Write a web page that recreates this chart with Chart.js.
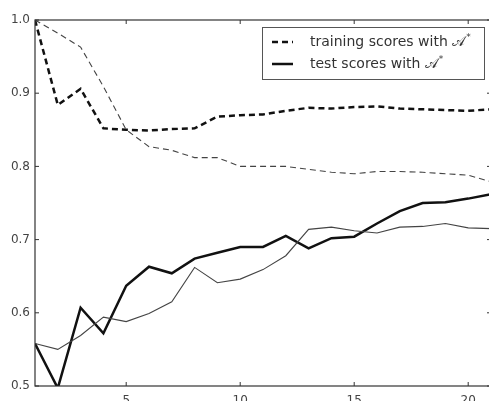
<!DOCTYPE html>
<html>
<head>
<meta charset="utf-8">
<script src="https://cdn.jsdelivr.net/npm/chart.js@4/dist/chart.umd.min.js"></script>
<style>
  html, body { margin: 0; padding: 0; background: #fff; overflow: hidden; }
  #wrap { position: relative; width: 493px; height: 412px; }
</style>
</head>
<body>
<div id="wrap"><canvas id="myChart"></canvas></div>
<script>
// data
var steps = [1, 2, 3, 4, 5, 6, 7, 8, 9, 10, 11, 12, 13, 14, 15, 16, 17, 18, 19, 20, 21];
var trainScoresA = [1.0, 0.884, 0.906, 0.852, 0.850, 0.849, 0.851, 0.852, 0.868, 0.870, 0.871, 0.876, 0.880, 0.879, 0.881, 0.882, 0.879, 0.878, 0.877, 0.876, 0.878];
var trainScoresB = [1.0, 0.982, 0.963, 0.909, 0.850, 0.827, 0.822, 0.812, 0.812, 0.800, 0.800, 0.800, 0.796, 0.792, 0.790, 0.793, 0.793, 0.792, 0.790, 0.788, 0.779];
var testScoresA = [0.558, 0.497, 0.607, 0.572, 0.637, 0.663, 0.654, 0.674, 0.682, 0.690, 0.690, 0.705, 0.688, 0.702, 0.704, 0.722, 0.739, 0.750, 0.751, 0.756, 0.762];
var testScoresB = [0.558, 0.550, 0.569, 0.594, 0.588, 0.599, 0.615, 0.662, 0.641, 0.646, 0.659, 0.678, 0.714, 0.717, 0.712, 0.709, 0.717, 0.718, 0.722, 0.716, 0.715];
var xTicks = [5, 10, 15, 20];
var yTicks = [0.5, 0.6, 0.7, 0.8, 0.9, 1.0];
var legendLabels = ['training scores with \u{1D49C}', 'test scores with \u{1D49C}'];

function pts(vals) {
    return vals.map(function (v, i) { return { x: steps[i], y: v }; });
}

var fontFam = '"DejaVu Sans", sans-serif';

// frame, inward ticks and the boxed legend, matplotlib style
var framePlugin = {
    id: 'frame',
    afterDraw: function (chart) {
        var ctx = chart.ctx;
        var a = chart.chartArea;
        var xs = chart.scales.x, ys = chart.scales.y;
        ctx.save();
        ctx.strokeStyle = '#333';
        ctx.lineWidth = 1.2;
        ctx.strokeRect(a.left, a.top, a.right - a.left, a.bottom - a.top);
        ctx.lineWidth = 1;
        ctx.beginPath();
        xTicks.forEach(function (t) {
            var px = xs.getPixelForValue(t);
            ctx.moveTo(px, a.bottom); ctx.lineTo(px, a.bottom - 4);
            ctx.moveTo(px, a.top); ctx.lineTo(px, a.top + 4);
        });
        yTicks.forEach(function (t) {
            var py = ys.getPixelForValue(t);
            ctx.moveTo(a.left, py); ctx.lineTo(a.left + 4, py);
            ctx.moveTo(a.right, py); ctx.lineTo(a.right - 4, py);
        });
        ctx.stroke();

        // legend
        var lx = 262, ly = 27, lw = 222, lh = 52;
        ctx.fillStyle = '#fff';
        ctx.fillRect(lx, ly, lw, lh);
        ctx.strokeStyle = '#555';
        ctx.lineWidth = 1;
        ctx.strokeRect(lx + 0.5, ly + 0.5, lw, lh);
        var rows = [42, 64];
        var dashes = [[6, 4], []];
        ctx.textBaseline = 'middle';
        ctx.textAlign = 'left';
        rows.forEach(function (y, i) {
            ctx.strokeStyle = '#111';
            ctx.lineWidth = 2.5;
            ctx.setLineDash(dashes[i]);
            ctx.beginPath();
            ctx.moveTo(272, y); ctx.lineTo(293, y);
            ctx.stroke();
            ctx.setLineDash([]);
            ctx.fillStyle = '#333';
            ctx.font = '14px ' + fontFam;
            ctx.fillText(legendLabels[i], 310, y);
            var w = ctx.measureText(legendLabels[i]).width;
            ctx.font = '9px ' + fontFam;
            ctx.fillText('*', 310 + w + 1, y - 4);
        });
        ctx.restore();
    }
};

var ctx = document.getElementById('myChart');
var myChart = new Chart(ctx, {
    type: 'line',
    data: {
        datasets: [{
            label: 'training scores B',
            data: pts(trainScoresB),
            borderColor: '#444',
            borderWidth: 1.1,
            borderDash: [6, 4]
        }, {
            label: 'test scores B',
            data: pts(testScoresB),
            borderColor: '#444',
            borderWidth: 1.1
        }, {
            label: legendLabels[0],
            data: pts(trainScoresA),
            borderColor: '#111',
            borderWidth: 2.5,
            borderDash: [6, 4]
        }, {
            label: legendLabels[1],
            data: pts(testScoresA),
            borderColor: '#111',
            borderWidth: 2.5
        }]
    },
    options: {
        responsive: true,
        maintainAspectRatio: false,
        animation: false,
        elements: {
            point: { radius: 0 },
            line: { tension: 0, fill: false }
        },
        layout: { padding: { top: 20, right: 2, bottom: 0, left: 0 } },
        plugins: {
            legend: { display: false },
            tooltip: { enabled: false }
        },
        scales: {
            x: {
                type: 'linear',
                min: 1,
                max: 21,
                afterBuildTicks: function (axis) {
                    axis.ticks = xTicks.map(function (v) { return { value: v }; });
                },
                afterFit: function (scale) { scale.height = 26; },
                grid: { display: false, drawTicks: false },
                border: { display: false },
                ticks: {
                    padding: 8,
                    color: '#444',
                    font: { family: fontFam, size: 12 },
                    maxRotation: 0
                }
            },
            y: {
                min: 0.5,
                max: 1.0,
                afterBuildTicks: function (axis) {
                    axis.ticks = yTicks.map(function (v) { return { value: v }; });
                },
                afterFit: function (scale) { scale.width = 35; },
                grid: { display: false, drawTicks: false },
                border: { display: false },
                ticks: {
                    padding: 5,
                    color: '#444',
                    font: { family: fontFam, size: 12 },
                    callback: function (v) { return v.toFixed(1); }
                }
            }
        }
    },
    plugins: [framePlugin]
});
</script>
</body>
</html>
